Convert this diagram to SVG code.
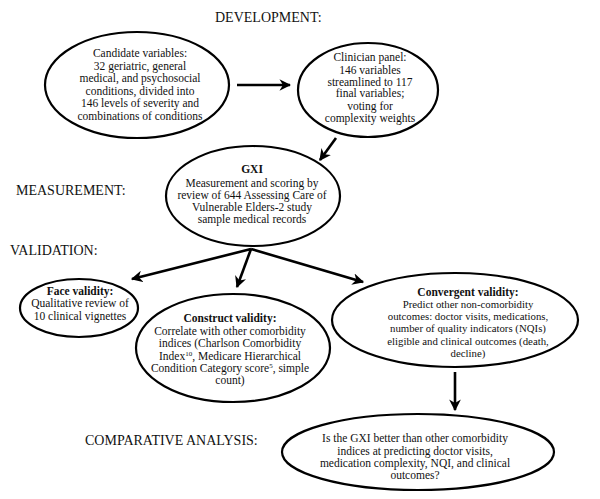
<svg xmlns="http://www.w3.org/2000/svg" width="600" height="499" viewBox="0 0 600 499">
<defs>
<style>
.head{font-family:"Liberation Serif","Times New Roman",serif;font-size:14px;fill:#111}
.t{font-family:"Liberation Serif","Times New Roman",serif;font-size:11.5px;fill:#111;text-anchor:middle}
.s{font-size:10.8px}
.b{font-weight:bold}
.node ellipse{fill:#fff;stroke:#000;stroke-width:2.2}
.conn line{stroke:#000;stroke-width:2.6}
</style>
<marker id="ah" viewBox="0 0 10 10" refX="9" refY="5" markerWidth="4.5" markerHeight="4.5" orient="auto" markerUnits="strokeWidth">
<path d="M0,0 L10,5 L0,10 L3,5 Z" fill="#000"/>
</marker>
</defs>
<rect width="600" height="499" fill="#fff"/>

<text class="head" x="215" y="22">DEVELOPMENT:</text>
<text class="head" x="16" y="195">MEASUREMENT:</text>
<text class="head" x="10" y="255">VALIDATION:</text>
<text class="head" x="85" y="445">COMPARATIVE ANALYSIS:</text>

<g id="candidate" class="node">
<ellipse cx="137" cy="85" rx="92" ry="53"/>
<text class="t" x="140" y="57">Candidate variables:</text>
<text class="t" x="140" y="70">32 geriatric, general</text>
<text class="t" x="140" y="82">medical, and psychosocial</text>
<text class="t" x="140" y="95">conditions, divided into</text>
<text class="t" x="140" y="107">146 levels of severity and</text>
<text class="t" x="140" y="120">combinations of conditions</text>
</g>

<g id="panel" class="node">
<ellipse cx="368" cy="90" rx="70" ry="47"/>
<text class="t" x="370" y="61">Clinician panel:</text>
<text class="t" x="370" y="74">146 variables</text>
<text class="t" x="370" y="86">streamlined to 117</text>
<text class="t" x="370" y="97">final variables;</text>
<text class="t" x="370" y="110">voting for</text>
<text class="t" x="370" y="122">complexity weights</text>
</g>

<g id="gxi" class="node">
<ellipse cx="253" cy="196" rx="87" ry="50"/>
<text class="t b" x="252" y="173">GXI</text>
<text class="t" x="252" y="187">Measurement and scoring by</text>
<text class="t" x="252" y="199">review of 644 Assessing Care of</text>
<text class="t" x="252" y="211">Vulnerable Elders-2 study</text>
<text class="t" x="252" y="223">sample medical records</text>
</g>

<g id="face" class="node">
<ellipse cx="79" cy="308" rx="59" ry="29"/>
<text class="t b" x="80" y="295">Face validity:</text>
<text class="t" x="80" y="307">Qualitative review of</text>
<text class="t" x="80" y="320">10 clinical vignettes</text>
</g>

<g id="construct" class="node">
<ellipse cx="233" cy="348" rx="97" ry="54"/>
<text class="t b" x="230" y="322">Construct validity:</text>
<text class="t" x="230" y="335">Correlate with other comorbidity</text>
<text class="t" x="230" y="347">indices (Charlson Comorbidity</text>
<text class="t" x="230" y="360">Index<tspan font-size="7" dy="-4">10</tspan><tspan dy="4">, Medicare Hierarchical</tspan></text>
<text class="t" x="230" y="372">Condition Category score<tspan font-size="7" dy="-4">5</tspan><tspan dy="4">, simple</tspan></text>
<text class="t" x="230" y="384">count)</text>
</g>

<g id="convergent" class="node">
<ellipse cx="455" cy="320" rx="123" ry="47"/>
<text class="t b" x="468" y="296">Convergent validity:</text>
<text class="t s" x="468" y="308">Predict other non-comorbidity</text>
<text class="t s" x="468" y="320">outcomes: doctor visits, medications,</text>
<text class="t s" x="468" y="332">number of quality indicators (NQIs)</text>
<text class="t s" x="468" y="345">eligible and clinical outcomes (death,</text>
<text class="t s" x="468" y="357">decline)</text>
</g>

<g id="comparative" class="node">
<ellipse cx="418" cy="452" rx="136" ry="38"/>
<text class="t" x="415" y="442">Is the GXI better than other comorbidity</text>
<text class="t" x="415" y="455">indices at predicting doctor visits,</text>
<text class="t" x="415" y="467">medication complexity, NQI, and clinical</text>
<text class="t" x="415" y="479">outcomes?</text>
</g>

<g id="connectors" class="conn">
<line x1="237" y1="85" x2="290" y2="85" marker-end="url(#ah)"/>
<line x1="336" y1="138" x2="320" y2="160" marker-end="url(#ah)"/>
<line x1="251" y1="249" x2="132" y2="279" marker-end="url(#ah)"/>
<line x1="251" y1="249" x2="237" y2="287" marker-end="url(#ah)"/>
<line x1="251" y1="249" x2="363" y2="282" marker-end="url(#ah)"/>
<line x1="455" y1="372" x2="455" y2="410" marker-end="url(#ah)"/>
</g>
</svg>
